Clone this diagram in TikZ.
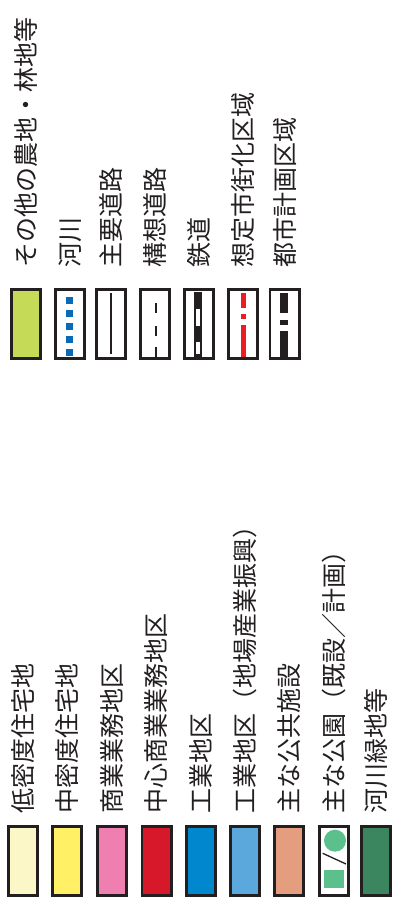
\documentclass[tikz,border=0pt]{standalone}
\usepackage{fontspec}
\newfontfamily\jpfont{Noto Sans CJK JP}
\definecolor{edge}{HTML}{231F20}
\definecolor{ink}{HTML}{231F20}
\definecolor{cream}{HTML}{FBF7C6}
\definecolor{yel}{HTML}{FFF066}
\definecolor{pnk}{HTML}{F07FB1}
\definecolor{rd}{HTML}{D7182A}
\definecolor{blu}{HTML}{0087CD}
\definecolor{lblu}{HTML}{5BA8DD}
\definecolor{salmon}{HTML}{E59D80}
\definecolor{parkg}{HTML}{5CC08D}
\definecolor{dgreen}{HTML}{3B855F}
\definecolor{ygreen}{HTML}{C5DA57}
\definecolor{riverb}{HTML}{0A6AB6}
\definecolor{linered}{HTML}{ED1C24}
\begin{document}
\begin{tikzpicture}[x=1pt,y=1pt,
  swatch/.style={draw=edge, line width=2.7pt, minimum width=29.3pt, minimum height=69.3pt, inner sep=0pt, fill=white},
  lbl/.style={rotate=90, anchor=west, inner sep=0pt, font=\jpfont\fontsize{25}{25}\selectfont, text=ink}]
\useasboundingbox (0,0) rectangle (393,904);
% ---------- bottom group ----------
\node[swatch, fill=cream]  (b1) at (23,43) {};
\node[swatch, fill=yel]    (b2) at (67,43) {};
\node[swatch, fill=pnk]    (b3) at (112,43) {};
\node[swatch, fill=rd]     (b4) at (156.5,43) {};
\node[swatch, fill=blu]    (b5) at (201,43) {};
\node[swatch, fill=lblu]   (b6) at (245,43) {};
\node[swatch, fill=salmon] (b7) at (289,43) {};
\node[swatch]              (b8) at (334,43) {};
\node[swatch, fill=dgreen] (b9) at (376,43) {};
% park symbol
\fill[parkg] (335,63.3) circle (11);
\fill[parkg] (324.3,15.7) rectangle (344.3,34);
\draw[edge, line width=1.3pt] (322.7,50.7) -- (346,40);
% labels
\node[lbl] (lb1) at (23,90) {低密度住宅地};
\node[lbl] (lb2) at (67,90) {中密度住宅地};
\node[lbl] (lb3) at (112,90) {商業業務地区};
\node[lbl] (lb4) at (156.5,90) {中心商業業務地区};
\node[lbl] (lb5) at (201,90) {工業地区};
\node[lbl] (lb6) at (245,90) {工業地区（地場産業振興）};
\node[lbl] (lb7) at (289,90) {主な公共施設};
\node[lbl] (lb8) at (334,90) {主な公園（既設／計画）};
\node[lbl] (lb9) at (376,90) {河川緑地等};
% ---------- top group ----------
\node[swatch, fill=ygreen] (t1) at (26,580) {};
\node[swatch] (t2) at (70,580) {};
\node[swatch] (t3) at (111,580) {};
\node[swatch] (t4) at (155,580) {};
\node[swatch] (t5) at (199,580) {};
\node[swatch] (t6) at (243,580) {};
\node[swatch] (t7) at (284.5,580) {};
% river squares
\foreach \yy in {603.5,590.5,577.5,564.5,551.5}
  \fill[riverb] (65.7,\yy-3.75) rectangle (73.2,\yy+3.75);
% main road
\draw[edge, line width=2.2pt] (111,611) -- (111,550);
% planned road
\foreach \ya/\yb in {601/591,578/568,557/547}
  \draw[edge, line width=2.2pt] (155.7,\ya) -- (155.7,\yb);
% railway
\draw[edge, line width=7.5pt] (198,612) -- (198,547);
\draw[white, line width=3.6pt] (198,594.5) -- (198,577.5);
\draw[white, line width=3.6pt] (198,562) -- (198,549.5);
% assumed urbanisation area
\foreach \ya/\yb in {611.3/596,590/584.7,579/547.3}
  \draw[linered, line width=5pt] (243,\ya) -- (243,\yb);
% city planning area
\foreach \ya/\yb in {611.3/590.7,584/579,573.3/547.3}
  \draw[edge, line width=8pt] (284,\ya) -- (284,\yb);
% labels
\node[lbl] (lt1) at (26,636) {その他の農地・林地等};
\node[lbl] (lt2) at (70,636) {河川};
\node[lbl] (lt3) at (111,636) {主要道路};
\node[lbl] (lt4) at (155,636) {構想道路};
\node[lbl] (lt5) at (199,636) {鉄道};
\node[lbl] (lt6) at (243,636) {想定市街化区域};
\node[lbl] (lt7) at (284.5,636) {都市計画区域};
\end{tikzpicture}
\end{document}
